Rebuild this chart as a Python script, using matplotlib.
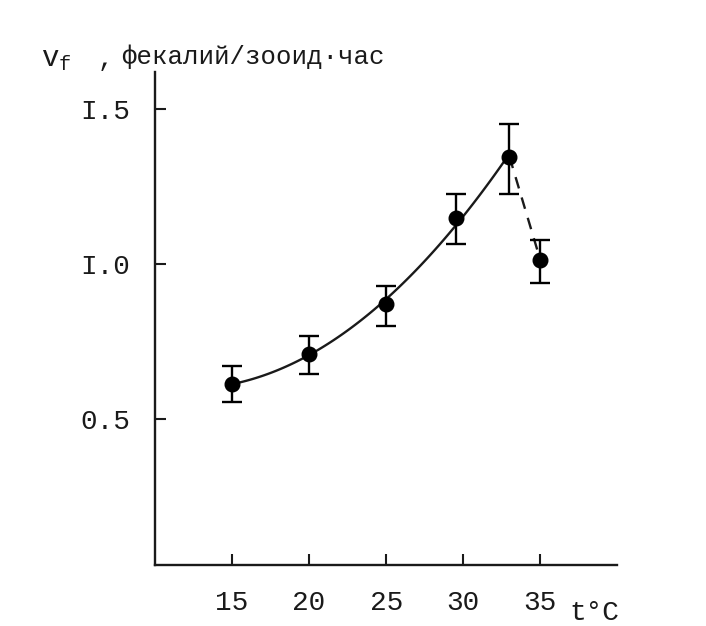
import numpy as np
import matplotlib
matplotlib.use('Agg')
import matplotlib.pyplot as plt

# данные
temp = [15, 20, 25, 29.5, 33, 35]
vf = [0.614, 0.71, 0.87, 1.147, 1.346, 1.013]
err_lo = [0.058, 0.063, 0.07, 0.082, 0.121, 0.073]
err_hi = [0.059, 0.058, 0.06, 0.078, 0.104, 0.065]

xticks = [15, 20, 25, 30, 35]
xtick_labels = ['15', '20', '25', '30', '35']
yticks = [0.5, 1.0, 1.5]
ytick_labels = ['0.5', 'I.0', 'I.5']

plt.rcParams['font.family'] = ['Liberation Mono', 'DejaVu Sans Mono']
ink = '#1a1a1a'

fig = plt.figure(figsize=(7.06, 6.26), dpi=100)
ax = fig.add_axes([0.2195, 0.0974, 0.655, 0.788])

# сглаживающая кривая по первым пяти точкам (рост скорости)
coef = np.polyfit(temp[:5], vf[:5], 2)
xs = np.linspace(temp[0] + 0.3, temp[4], 100)
ax.plot(xs, np.polyval(coef, xs), color=ink, lw=1.7)
# спад после максимума — пунктир
ax.plot(temp[4:], vf[4:], color=ink, lw=1.7, ls=(0, (5, 4)))

ax.errorbar(temp, vf, yerr=[err_lo, err_hi], fmt='o', color='black',
            ms=10.5, capsize=7, elinewidth=1.7, capthick=1.7)

ax.set_xlim(10, 40)
ax.set_ylim(0.03, 1.62)
ax.spines['top'].set_visible(False)
ax.spines['right'].set_visible(False)
for s in ['left', 'bottom']:
    ax.spines[s].set_color(ink)
    ax.spines[s].set_linewidth(1.7)

ax.set_xticks(xticks)
ax.set_xticklabels(xtick_labels)
ax.set_yticks(yticks)
ax.set_yticklabels(ytick_labels)
ax.tick_params(direction='in', length=8, width=1.5, colors=ink,
               labelsize=20, pad=18)

ax.text(36.9, -0.125, 't°C', fontsize=20, color=ink, ha='left', va='center')
fig.text(0.058, 0.905, 'v$_\\mathregular{f}$', fontsize=21, color=ink, va='center')
fig.text(0.138, 0.905, ',', fontsize=19, color=ink, va='center')
fig.text(0.172, 0.91, 'фекалий/зооид·час', fontsize=18.5, color=ink, va='center')

fig.savefig('out.png', dpi=100, facecolor='white')
